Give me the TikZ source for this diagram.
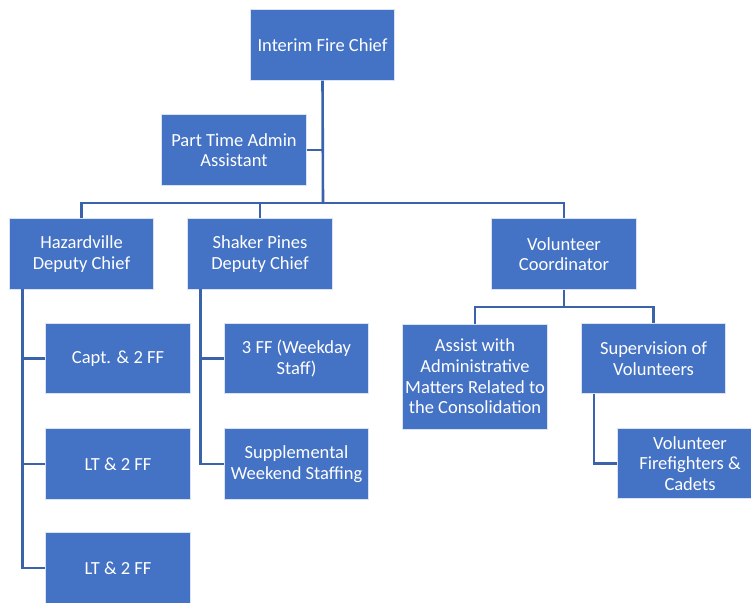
\documentclass[tikz,border=0pt]{standalone}
\usepackage{fontspec}
\setmainfont{Carlito}
\definecolor{boxblue}{HTML}{4472C4}
\definecolor{lineblue}{HTML}{3B63AC}
\begin{document}
\begin{tikzpicture}[x=1pt,y=-1pt,
  box/.style={rectangle, fill=boxblue, draw=white!80!boxblue, line width=0.6pt,
    minimum width=144.5pt, minimum height=70.5pt, inner sep=0pt, text=white,
    align=center, font=\fontsize{18.5}{20.7}\selectfont},
  conn/.style={draw=lineblue, line width=2.6pt}]
\useasboundingbox (0,0) rectangle (751,602);
\clip (0,0) rectangle (751,602);
\node[box] (chief) at (322.5,45) {Interim Fire Chief};
\node[box] (admin) at (234,150) {Part Time Admin\\Assistant};
\node[box] (haz) at (81.5,254) {Hazardville\\Deputy Chief};
\node[box] (shk) at (260,254) {Shaker Pines\\Deputy Chief};
\node[box] (vol) at (564,254) {Volunteer\\Coordinator};
\node[box] (capt) at (118,358.5) {Capt. \& 2 FF};
\node[box] (lta) at (118,464) {LT \& 2 FF};
\node[box] (ltb) at (118,568) {LT \& 2 FF};
\node[box] (ffw) at (296.5,358.5) {3 FF (Weekday\\Staff)};
\node[box] (sup) at (296.5,464) {Supplemental\\Weekend Staffing};
\node[box, minimum height=105pt] (asst) at (475,376.5) {Assist with\\Administrative\\Matters Related to\\the Consolidation};
\node[box] (supv) at (653.5,358.5) {Supervision of\\Volunteers};
\node[box] (vff) at (690,463.5) {Volunteer\\Firefighters \&\\Cadets};
\coordinate (bus) at (323,203);
\coordinate (vbus) at (564,307);
\coordinate (hzs) at (22.7,289);
\coordinate (sks) at (200.5,289);
\coordinate (svs) at (594,394);
\begin{scope}[on background layer/.try]
\draw[conn] (chief.south) -- (bus);
\draw[conn] (admin.east) -- (admin.east -| bus);
\draw[conn] (haz.north) |- (bus) -| (vol.north);
\draw[conn] (shk.north) -- (shk.north |- bus);
\draw[conn] (vol.south) -- (vbus);
\draw[conn] (asst.north) |- (vbus) -| (supv.north);
\draw[conn] (hzs) |- (ltb.west);
\draw[conn] (capt.west) -- (capt.west -| hzs);
\draw[conn] (lta.west) -- (lta.west -| hzs);
\draw[conn] (sks) |- (sup.west);
\draw[conn] (ffw.west) -- (ffw.west -| sks);
\draw[conn] (svs) |- (vff.west);
\end{scope}
\end{tikzpicture}
\end{document}
